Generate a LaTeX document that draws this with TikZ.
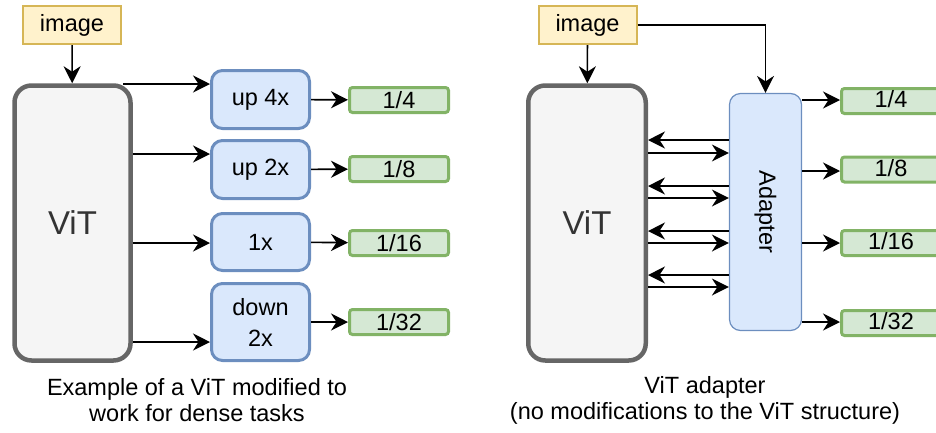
\documentclass[tikz,border=0pt]{standalone}
\usepackage{fontspec}
\setmainfont{Liberation Sans}
\usetikzlibrary{arrows.meta}

\definecolor{imgfill}{HTML}{FFF2CC}
\definecolor{imgline}{HTML}{D6B656}
\definecolor{vitfill}{HTML}{F5F5F5}
\definecolor{vitline}{HTML}{666666}
\definecolor{vittext}{HTML}{333333}
\definecolor{bluefill}{HTML}{DAE8FC}
\definecolor{blueline}{HTML}{6C8EBF}
\definecolor{greenfill}{HTML}{D5E8D4}
\definecolor{greenline}{HTML}{82B366}

\tikzset{
  basefont/.style={font=\fontsize{23.5}{27}\selectfont},
  imgbox/.style={draw=imgline, fill=imgfill, line width=2pt, minimum width=98pt,
    minimum height=38pt, inner sep=0pt, basefont},
  vitbox/.style={draw=vitline, fill=vitfill, line width=4.5pt, rounded corners=17pt,
    minimum width=116pt, minimum height=275pt, inner sep=0pt,
    text=vittext, font=\fontsize{33}{38}\selectfont},
  opbox/.style={draw=blueline, fill=bluefill, line width=3pt, rounded corners=11pt,
    minimum width=98pt, inner sep=0pt, align=center,
    font=\fontsize{23.5}{31}\selectfont},
  adapterbox/.style={draw=blueline, fill=bluefill, line width=1.2pt, rounded corners=11pt,
    minimum width=72pt, minimum height=237pt, inner sep=0pt},
  outbox/.style={draw=greenline, fill=greenfill, line width=3pt, rounded corners=3pt,
    minimum width=99pt, minimum height=25pt, inner sep=0pt, basefont},
  caption/.style={align=center, font=\fontsize{23.5}{26}\selectfont},
  tip/.tip={Stealth[length=17pt, width=17pt, inset=5.5pt]},
  flow/.style={-tip, line width=1.6pt}
}

\begin{document}
\begin{tikzpicture}[x=1pt, y=-1pt]
\useasboundingbox (0,0) rectangle (936,432);
\clip (0,0) rectangle (936,432);

% ---------- left: ViT with per-scale up/down sampling ----------
\node[imgbox] (imgL) at (72,25) {image};
\node[vitbox] (vitL) at (72.5,223) {ViT};

\node[opbox, minimum height=58pt] (up4) at (260.5,99.5) {up 4x};
\node[opbox, minimum height=58pt] (up2) at (260.5,169.5) {up 2x};
\node[opbox, minimum height=57pt] (one) at (260.5,242) {1x};
\node[opbox, minimum height=77pt] (down) at (260.5,322) {down\\2x};

\node[outbox] (oL1) at (399,100) {1/4};
\node[outbox] (oL2) at (399,169) {1/8};
\node[outbox] (oL3) at (399,243) {1/16};
\node[outbox] (oL4) at (399,322) {1/32};

\draw[flow] (imgL) -- (vitL);

\coordinate (t1) at (123,84);
\draw[flow] (t1) -- (up4.west |- t1);
\draw[flow] (vitL.east |- 0,154) -- (up2.west |- 0,154);
\draw[flow] (vitL.east |- 0,243) -- (one.west |- 0,243);
\draw[flow] (vitL.east |- 0,342) -- (down.west |- 0,342);

\draw[flow] (up4) -- (oL1);
\draw[flow] (up2) -- (oL2);
\draw[flow] (one) -- (oL3);
\draw[flow] (down) -- (oL4);

\node[caption] (capL) at (197,400) {Example of a ViT modified to\\work for dense tasks};

% ---------- right: ViT adapter ----------
\node[imgbox] (imgR) at (587.5,25) {image};
\node[vitbox, minimum width=117.5pt] (vitR) at (587,223) {ViT};
\node[adapterbox] (adapter) at (765.5,212) {};
\node[basefont, rotate=-90] (adlabel) at (adapter.center) {Adapter};

\draw[flow] (imgR) -- (vitR);
\draw[flow] (imgR.east) -| (adapter.north);

\foreach \a/\b in {140/153, 186/198, 231/243, 275/287} {
  \draw[flow] (adapter.west |- 0,\a) -- (vitR.east |- 0,\a);
  \draw[flow] (vitR.east |- 0,\b) -- (adapter.west |- 0,\b);
}

\node[outbox] (oR1) at (891,101) {\raisebox{4pt}{1/4}};
\node[outbox] (oR2) at (891,169.5) {\raisebox{4pt}{1/8}};
\node[outbox] (oR3) at (891,243) {\raisebox{4pt}{1/16}};
\node[outbox] (oR4) at (891,323) {\raisebox{4pt}{1/32}};

\draw[flow] (adapter.east |- 0,100) -- (oR1.west |- 0,100);
\draw[flow] (adapter.east |- 0,171) -- (oR2.west |- 0,171);
\draw[flow] (adapter.east |- 0,243) -- (oR3.west |- 0,243);
\draw[flow] (adapter.east |- 0,322) -- (oR4.west |- 0,322);

\node[caption] (capR) at (705,400) {ViT adapter\\(no modifications to the ViT structure)};
\end{tikzpicture}
\end{document}
